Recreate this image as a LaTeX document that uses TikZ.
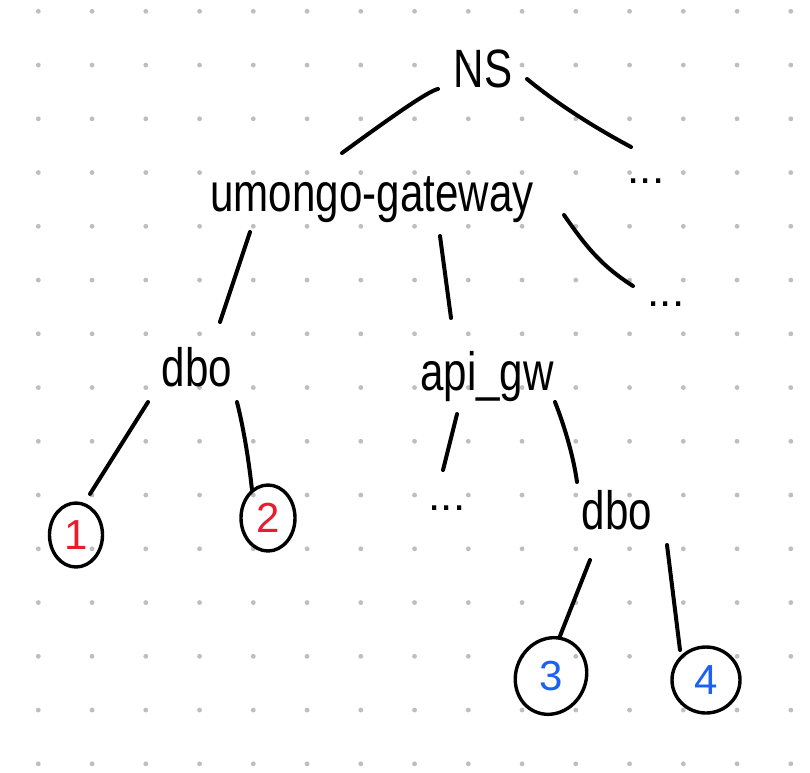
\documentclass[tikz,border=0pt]{standalone}
\usepackage{fontspec}
\usepackage{graphicx}
\setmainfont{Liberation Sans}
\usetikzlibrary{shapes.geometric}
\definecolor{dotc}{RGB}{190,190,190}
\definecolor{redd}{RGB}{232,28,44}
\definecolor{blued}{RGB}{28,98,240}
\newcommand\sqz[1]{\scalebox{0.78}[1]{#1}}
\begin{document}
\begin{tikzpicture}[x=1pt,y=-1pt,
  lbl/.style={font=\fontsize{54}{54}\selectfont, inner sep=0pt, anchor=base},
  more/.style={font=\fontsize{44}{44}\selectfont, inner sep=0pt, anchor=base},
  edge/.style={line width=4pt, line cap=round, line join=round},
  circ/.style={ellipse, draw, line width=3.4pt, inner sep=0pt, font=\fontsize{42}{42}\selectfont}]
\useasboundingbox (0,0) rectangle (810,772);
\fill[white] (0,0) rectangle (810,772);
\foreach \i in {0,...,14} \foreach \j in {0,...,14}
  \fill[dotc] (38.3+53.75*\i, 11.3+53.75*\j) circle (2.4);
% labels
\node[lbl] (ns) at (483,87) {\sqz{NS}};
\node[lbl] (gw) at (372,211) {\sqz{umongo-gateway}};
\node[more] (m1) at (646,183) {...};
\node[lbl] (dbo1) at (197,386) {\sqz{dbo}};
\node[lbl] (api) at (487,390) {\sqz{api\_gw}};
\node[more] (m2) at (666,306) {...};
\node[more] (m3) at (447,510) {...};
\node[lbl] (dbo2) at (617,529) {\sqz{dbo}};
% circles
\node[circ, minimum width=53pt, minimum height=64pt] (c1) at (76,535) {\textcolor{redd}{1}};
\node[circ, minimum width=54pt, minimum height=66pt] (c2) at (268,518) {\raisebox{-4pt}{\textcolor{redd}{2}}};
\node[circ, minimum width=70pt, minimum height=78pt, rotate=-25] (c3) at (551,676) {\rotatebox{25}{\textcolor{blued}{3}}};
\node[circ, minimum width=68pt, minimum height=66pt] (c4) at (706,680) {\textcolor{blued}{4}};
% connector ends
\coordinate (e1a) at (438,89);  \coordinate (e1b) at (342,153);
\coordinate (e2a) at (527,79);  \coordinate (e2b) at (631,147);
\coordinate (e3a) at (250,232); \coordinate (e3b) at (220,322);
\coordinate (e4a) at (440,236); \coordinate (e4b) at (451,318);
\coordinate (e5a) at (564,215); \coordinate (e5b) at (633,286);
\coordinate (e6a) at (148,402); \coordinate (e6b) at (90,494);
\coordinate (e7a) at (237,402); \coordinate (e7b) at (252,490);
\coordinate (e8a) at (457,414); \coordinate (e8b) at (443,470);
\coordinate (e9a) at (555,402); \coordinate (e9b) at (577,482);
\coordinate (e10a) at (590,560); \coordinate (e10b) at (560,636);
\coordinate (e11a) at (667,545); \coordinate (e11b) at (680,650);
% connectors
\draw[edge] (e1a) .. controls (428,91) and (390,118) .. (e1b);
\draw[edge] (e2a) .. controls (555,102) and (590,125) .. (e2b);
\draw[edge] (e3a) -- (e3b);
\draw[edge] (e4a) -- (e4b);
\draw[edge] (e5a) .. controls (585,245) and (600,265) .. (e5b);
\draw[edge] (e6a) -- (e6b);
\draw[edge] (e7a) .. controls (244,430) and (249,462) .. (e7b);
\draw[edge] (e8a) -- (e8b);
\draw[edge] (e9a) .. controls (566,430) and (574,460) .. (e9b);
\draw[edge] (e10a) -- (e10b);
\draw[edge] (e11a) -- (e11b);
\end{tikzpicture}
\end{document}
